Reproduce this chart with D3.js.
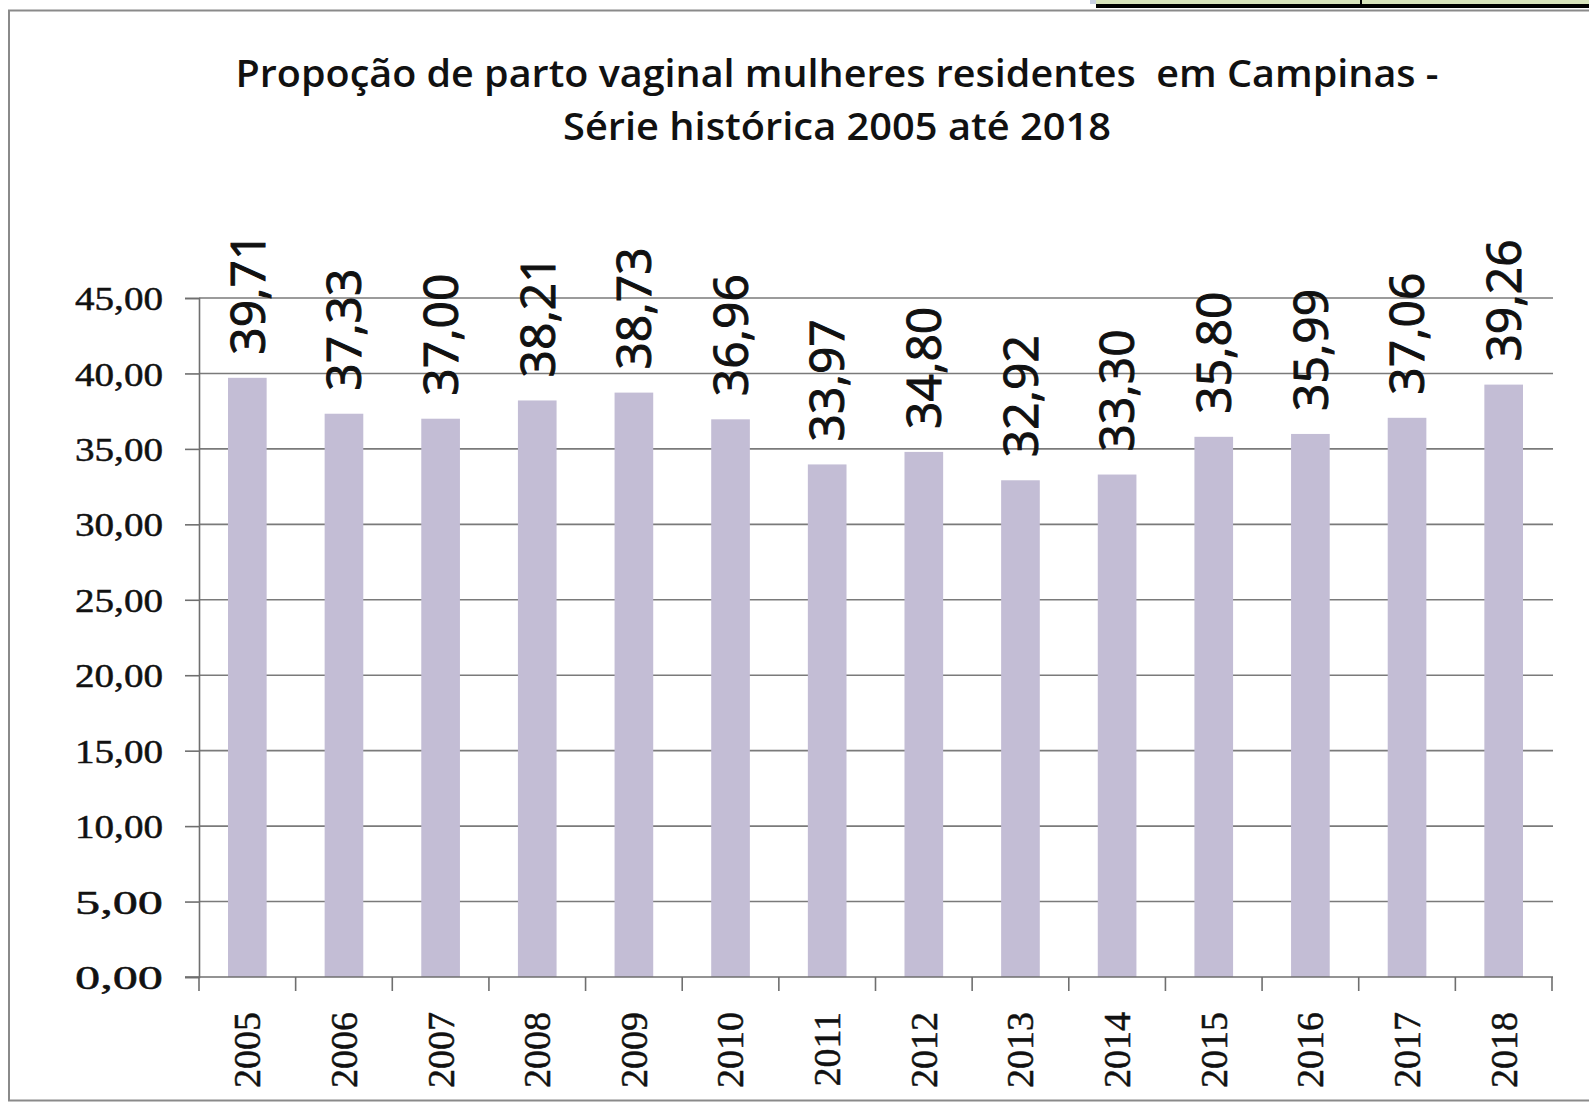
<!DOCTYPE html>
<html>
<head>
<meta charset="utf-8">
<script src="https://cdn.jsdelivr.net/npm/d3@7"></script>
<style>
  html, body { margin: 0; padding: 0; background: #fff; }
  svg { display: block; }
  .title { font-family: "Open Sans", sans-serif; font-weight: 600; font-size: 38px; fill: #111; white-space: pre; }
  .ytick { font-family: "Liberation Serif", serif; font-size: 34px; fill: #111; stroke: #111; stroke-width: 0.5px; }
  .xtick { font-family: "Liberation Serif", serif; font-size: 38px; fill: #111; stroke: #111; stroke-width: 0.5px; }
  .val { font-family: "Open Sans", sans-serif; font-weight: 400; font-size: 48px; fill: #111; stroke: #111; stroke-width: 1px; }
</style>
</head>
<body>
<svg id="chart" width="1589" height="1109"></svg>
<script>
// data
const years = ["2005", "2006", "2007", "2008", "2009", "2010", "2011",
  "2012", "2013", "2014", "2015", "2016", "2017", "2018"];
const values = [39.71, 37.33, 37.00, 38.21, 38.73, 36.96, 33.97,
  34.80, 32.92, 33.30, 35.80, 35.99, 37.06, 39.26];
const yTicks = [0, 5, 10, 15, 20, 25, 30, 35, 40, 45];
const titleLines = ["Propoção de parto vaginal mulheres residentes  em Campinas -",
  "Série histórica 2005 até 2018"];

const comma = d => d3.format(".2f")(d).replace(".", ",");

let svg = d3.select("#chart");

// bits of the spreadsheet showing above the chart
svg.append("rect").attr("x", 1090).attr("y", 0).attr("width", 6).attr("height", 4).attr("fill", "#c9d1e2");
svg.append("rect").attr("x", 1096).attr("y", 0).attr("width", 493).attr("height", 4).attr("fill", "#d8e4bc");
svg.append("rect").attr("x", 1096).attr("y", 4).attr("width", 493).attr("height", 4).attr("fill", "#000");
svg.append("rect").attr("x", 1360).attr("y", 0).attr("width", 2).attr("height", 4).attr("fill", "#000");

// chart frame
svg.append("rect")
  .attr("x", 9).attr("y", 10.5)
  .attr("width", 1600).attr("height", 1090)
  .attr("fill", "#fff")
  .attr("stroke", "#8a8a8a")
  .attr("stroke-width", 2);

// title
svg.selectAll("text.title")
  .data(titleLines)
  .join("text")
  .classed("title", true)
  .attr("x", 837)
  .attr("y", (d, i) => 87 + i * 53)
  .attr("text-anchor", "middle")
  .attr("textLength", (d, i) => i == 0 ? 1203 : 548)
  .attr("lengthAdjust", "spacingAndGlyphs")
  .text(d => d);

const plotLeft = 199, plotRight = 1552, plotTop = 298, plotBottom = 977;

let x = d3.scaleBand()
  .domain(years)
  .range([plotLeft, plotRight])
  .paddingInner(0.6)
  .paddingOuter(0.3);

let y = d3.scaleLinear()
  .domain([0, 45])
  .range([plotBottom, plotTop]);

// gridlines
svg.append("g")
  .selectAll("line")
  .data(yTicks.filter(d => d > 0))
  .join("line")
  .attr("x1", plotLeft).attr("x2", plotRight + 1)
  .attr("y1", d => y(d)).attr("y2", d => y(d))
  .attr("stroke", "#7a7a7a")
  .attr("stroke-width", 1.6);

// bars
svg.append("g")
  .selectAll("rect")
  .data(values)
  .join("rect")
  .attr("x", (d, i) => x(years[i]))
  .attr("y", d => y(d))
  .attr("width", x.bandwidth())
  .attr("height", d => y(0) - y(d))
  .attr("fill", "#c3bdd5");

// y axis
let yAxis = svg.append("g")
  .attr("transform", `translate(${plotLeft},0)`)
  .call(d3.axisLeft(y).tickValues(yTicks).tickSize(14).tickPadding(22).tickFormat(comma));
yAxis.select(".domain").attr("stroke", "#6f6f6f").attr("stroke-width", 1.6);
yAxis.selectAll(".tick line").attr("stroke", "#6f6f6f").attr("stroke-width", 1.6);
yAxis.selectAll(".tick text")
  .attr("class", "ytick")
  .attr("fill", null)
  .attr("dy", "0.34em")
  .attr("textLength", 88)
  .attr("lengthAdjust", "spacingAndGlyphs");
yAxis.attr("font-family", null).attr("font-size", null);

// x axis: line, boundary ticks, rotated year labels
let gap = (x.step() - x.bandwidth()) / 2;
let bounds = years.map(d => x(d) - gap).concat([plotRight]);
let xAxis = svg.append("g");
xAxis.append("line")
  .attr("x1", plotLeft - 14).attr("x2", plotRight + 1)
  .attr("y1", plotBottom).attr("y2", plotBottom)
  .attr("stroke", "#6f6f6f").attr("stroke-width", 1.6);
xAxis.selectAll("line.tk")
  .data(bounds)
  .join("line")
  .classed("tk", true)
  .attr("x1", d => d).attr("x2", d => d)
  .attr("y1", plotBottom).attr("y2", plotBottom + 14)
  .attr("stroke", "#6f6f6f").attr("stroke-width", 1.6);
xAxis.selectAll("text")
  .data(years)
  .join("text")
  .classed("xtick", true)
  .attr("transform", d => `translate(${x(d) + x.bandwidth() / 2},1012) rotate(-90)`)
  .attr("dy", "0.34em")
  .attr("text-anchor", "end")
  .text(d => d);

// value labels
svg.append("g")
  .selectAll("text")
  .data(values)
  .join("text")
  .classed("val", true)
  .attr("transform", (d, i) => `translate(${x(years[i]) + x.bandwidth() / 2},${y(d) - 23}) rotate(-90)`)
  .attr("dy", "0.36em")
  .attr("text-anchor", "start")
  .text(d => comma(d));
</script>
</body>
</html>
